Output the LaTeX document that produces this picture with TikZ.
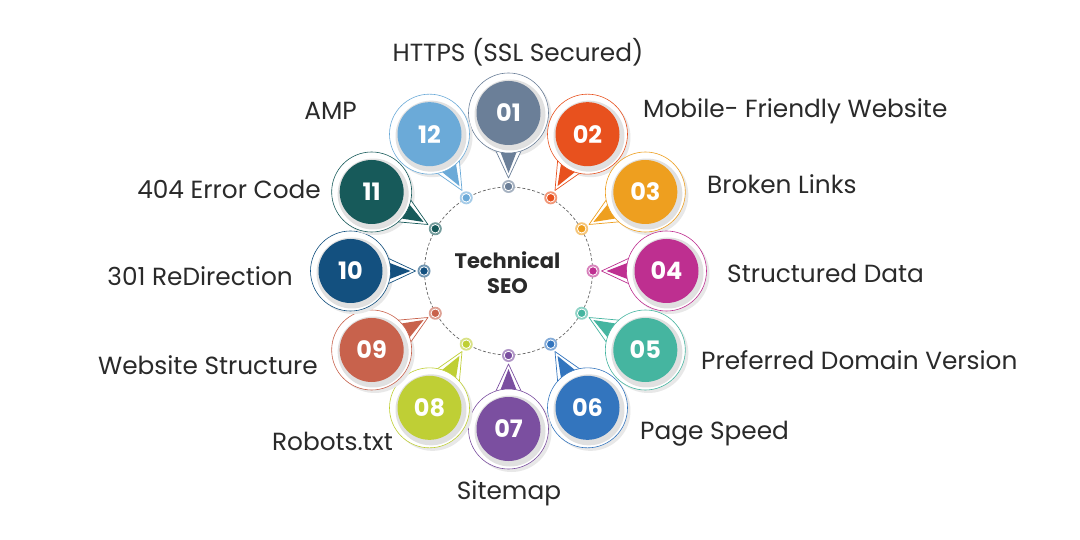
\documentclass[tikz,border=0pt]{standalone}
\usepackage{fontspec}
\setmainfont{Poppins}
\definecolor{c1}{HTML}{6B7F98}
\definecolor{c2}{HTML}{E8511E}
\definecolor{c3}{HTML}{EE9F1F}
\definecolor{c4}{HTML}{BE2F90}
\definecolor{c5}{HTML}{45B5A0}
\definecolor{c6}{HTML}{3375BE}
\definecolor{c7}{HTML}{7B4FA0}
\definecolor{c8}{HTML}{BFCF35}
\definecolor{c9}{HTML}{C8624C}
\definecolor{c10}{HTML}{13507F}
\definecolor{c11}{HTML}{175A5A}
\definecolor{c12}{HTML}{6BAAD8}
\definecolor{ink}{HTML}{2A2A2A}
\tikzset{
  x=1pt,y=1pt,
  lbl/.style={font=\fontsize{24.8}{28}\selectfont,text=ink,inner sep=0pt},
  numtxt/.style={font=\fontsize{24}{26}\selectfont\bfseries,text=white,inner sep=0pt},
  hubtxt/.style={font=\fontsize{21}{25}\selectfont\bfseries,text=ink,align=center,inner sep=0pt},
  hubring/.style={circle,draw=black!60,densely dashed,line width=0.7pt,minimum size=168pt,inner sep=0pt},
  dotn/.style={circle,draw=white,line width=0.8pt,fill=#1,minimum size=8.5pt,inner sep=0pt},
}
\begin{document}
\begin{tikzpicture}
\useasboundingbox (0,0) rectangle (1080,-540);
\fill[white] (0,0) rectangle (1080,-540);
\coordinate (c) at (508.5,-271);
\node[hubring] (ring) at (c) {};
\node[hubtxt] (hub) at (507.5,-273) {Technical\\SEO};
\foreach \i/\n in {1/01,2/02,3/03,4/04,5/05,6/06,7/07,8/08,9/09,10/10,11/11,12/12}{
  \pgfmathsetmacro{\ang}{90-30*(\i-1)}
  \begin{scope}[shift={(c)},rotate=\ang]
    \begin{scope}[rotate=-\ang,shift={(3,-3)},rotate=\ang]
      \fill[black!9] (158,0) circle[radius=40];
    \end{scope}
    \draw[c\i,line width=0.7pt,fill=white,line join=round]
      (93,0) -- (122,13.5) -- (122,-13.5) -- cycle;
    \fill[c\i] (98,0) -- (124,10) -- (124,-10) -- cycle;
    \node[circle,draw=c\i,line width=0.6pt,fill=white,minimum size=80pt,inner sep=0pt] (o\i) at (158,0) {};
    \begin{scope}[rotate=-\ang,shift={(1.5,-2)},rotate=\ang]
      \fill[black!12] (158,0) circle[radius=35.5];
    \end{scope}
    \node[circle,fill=c\i,minimum size=64pt,inner sep=0pt] (d\i) at (158,0) {};
    \node[numtxt] (n\i) at (158,0) {\n};
    \node[circle,draw=none,fill=c\i!60,minimum size=13pt,inner sep=0pt] (h\i) at (84.5,0) {};
    \node[dotn=c\i] (p\i) at (84.5,0) {};
  \end{scope}
}
\node[lbl] (l1) at (518,-52) {HTTPS (SSL Secured)};
\node[lbl,anchor=west] (l2) at (643,-111) {Mobile- Friendly Website};
\node[lbl,anchor=west] (l3) at (707,-184) {Broken Links};
\node[lbl,anchor=west] (l4) at (727,-273) {Structured Data};
\node[lbl,anchor=west] (l5) at (701,-360) {Preferred Domain Version};
\node[lbl,anchor=west] (l6) at (640,-434) {Page Speed};
\node[lbl] (l7) at (509,-493) {Sitemap};
\node[lbl,anchor=east] (l8) at (393,-441) {Robots.txt};
\node[lbl,anchor=east] (l9) at (318,-365) {Website Structure};
\node[lbl,anchor=east] (l10) at (293,-276) {301 ReDirection};
\node[lbl,anchor=east] (l11) at (321,-189) {404 Error Code};
\node[lbl,anchor=east] (l12) at (357,-111) {AMP};
\end{tikzpicture}
\end{document}
